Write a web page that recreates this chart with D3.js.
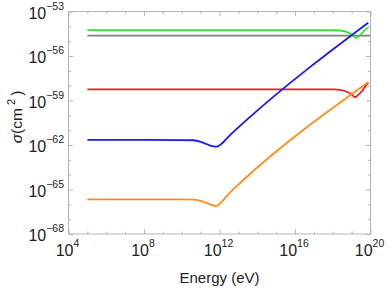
<!DOCTYPE html>
<html>
<head>
<meta charset="utf-8">
<script src="https://cdn.jsdelivr.net/npm/d3@7"></script>
<style>
html,body{margin:0;padding:0;background:#fff;}
svg{display:block;font-family:"Liberation Sans",Arial,sans-serif;}
</style>
</head>
<body>
<svg id="chart" width="388" height="291"></svg>
<script>
// log10(Energy / eV) and log10(sigma / cm^2)
const grayE   = [5, 20];
const grayS   = [-54.63, -54.63];

const greenE  = [5, 10, 15, 17.5, 18.0, 18.38, 18.75, 19.0, 19.23, 19.4, 19.55, 19.7, 19.88];
const greenS  = [-54.25, -54.25, -54.25, -54.25, -54.26, -54.28, -54.38, -54.55, -54.77, -54.66, -54.45, -54.26, -54.07];

const redE    = [5, 10, 15, 17.5, 18.0, 18.38, 18.74, 18.97, 19.18, 19.35, 19.55, 19.7, 19.88];
const redS    = [-58.245, -58.245, -58.245, -58.245, -58.255, -58.28, -58.41, -58.56, -58.78, -58.62, -58.36, -58.1, -57.80];

const blueE   = [5, 8, 9.9, 10.61, 11.14, 11.59, 11.76, 11.94, 12.03, 12.56, 13.44, 19.88];
const blueS   = [-61.66, -61.66, -61.665, -61.68, -61.85, -62.07, -62.11, -62.07, -62.00, -61.33, -60.31, -53.76];

const orangeE = [5, 8, 9.9, 10.61, 11.14, 11.59, 11.85, 12.03, 12.34, 12.66, 13.09, 19.88];
const orangeS = [-65.66, -65.66, -65.665, -65.68, -65.82, -66.05, -66.11, -65.94, -65.51, -65.07, -64.56, -57.77];

const xMajor = [4, 8, 12, 16, 20];
const yMajor = [-68, -65, -62, -59, -56, -53];

const series = [
  {E: grayE,   S: grayS,   color: "#7f7f7f"},
  {E: greenE,  S: greenS,  color: "#2ee52e"},
  {E: redE,    S: redS,    color: "#ee1c1c"},
  {E: blueE,   S: blueS,   color: "#1a1aee"},
  {E: orangeE, S: orangeS, color: "#ff8c1a"}
];

const L = 68.5, R = 370.5, T = 11.5, B = 234;
const x = d3.scaleLog().domain([1e4, 1e20]).range([L, R]);
const y = d3.scaleLog().domain([1e-68, 1e-53]).range([B, T]);

const svg = d3.select("#chart");
const frameColor = "#b4b4b4";

// ticks
const xDec = d3.range(4, 21).map(e => Math.pow(10, e));
const yDec = d3.range(-68, -52).map(e => Math.pow(10, e));
const isMajX = v => xMajor.includes(Math.round(Math.log10(v)));
const isMajY = v => yMajor.includes(Math.round(Math.log10(v)));

function tickAxis(axisFn, scale, vals, tf) {
  const g = svg.append("g").attr("transform", tf)
    .call(axisFn(scale).tickValues(vals).tickFormat("").tickSizeOuter(0));
  g.select(".domain").remove();
  g.selectAll(".tick line").attr("stroke", frameColor).attr("stroke-width", 1);
  return g;
}
const gb = tickAxis(d3.axisBottom, x, xDec, `translate(0,${B})`);
gb.selectAll(".tick line").attr("y2", d => isMajX(d) ? -4.5 : -2.5);
const gt = tickAxis(d3.axisTop, x, xDec, `translate(0,${T})`);
gt.selectAll(".tick line").attr("y2", d => isMajX(d) ? 4.5 : 2.5);
const gl = tickAxis(d3.axisLeft, y, yDec, `translate(${L},0)`);
gl.selectAll(".tick line").attr("x2", d => isMajY(d) ? 4.5 : 2.5);
const gr = tickAxis(d3.axisRight, y, yDec, `translate(${R},0)`);
gr.selectAll(".tick line").attr("x2", d => isMajY(d) ? -4.5 : -2.5);

// series
const line = d3.line().x(d => x(d[0])).y(d => y(d[1])).curve(d3.curveMonotoneX);
series.forEach(s => {
  const pts = s.E.map((e, i) => [Math.pow(10, e), Math.pow(10, s.S[i])]);
  svg.append("path").datum(pts)
    .attr("fill", "none").attr("stroke", s.color)
    .attr("stroke-width", 1.8).attr("stroke-linejoin", "round")
    .attr("d", line);
});

// frame
svg.append("rect").attr("x", L).attr("y", T).attr("width", R - L).attr("height", B - T)
  .attr("fill", "none").attr("stroke", frameColor).attr("stroke-width", 1);

// y tick labels
yMajor.forEach(e => {
  const t = svg.append("text").attr("x", 64).attr("y", y(Math.pow(10, e)) + 7)
    .attr("text-anchor", "end").attr("font-size", 16).attr("fill", "#222");
  t.append("tspan").text("10");
  t.append("tspan").attr("dy", -9).attr("font-size", 10.5).text("\u2212" + Math.abs(e));
});
// x tick labels
xMajor.forEach(e => {
  const t = svg.append("text").attr("x", x(Math.pow(10, e)) - 1).attr("y", 256)
    .attr("text-anchor", "middle").attr("font-size", 16).attr("fill", "#222");
  t.append("tspan").text("10");
  t.append("tspan").attr("dy", -9).attr("font-size", 10.5).text(String(e));
});

// axis titles
svg.append("text").attr("x", (L + R) / 2).attr("y", 283)
  .attr("text-anchor", "middle").attr("font-size", 15).attr("fill", "#222")
  .text("Energy (eV)");

const yt = svg.append("text").attr("transform", `translate(21.5,117) rotate(-90)`)
  .attr("text-anchor", "middle").attr("font-size", 15.5).attr("fill", "#222");
yt.append("tspan").attr("font-style", "italic").text("σ");
yt.append("tspan").text("(cm\u2009");
yt.append("tspan").attr("dy", -7).attr("font-size", 11).text("2");
yt.append("tspan").attr("dy", 7).text("\u2009)");
</script>
</body>
</html>
